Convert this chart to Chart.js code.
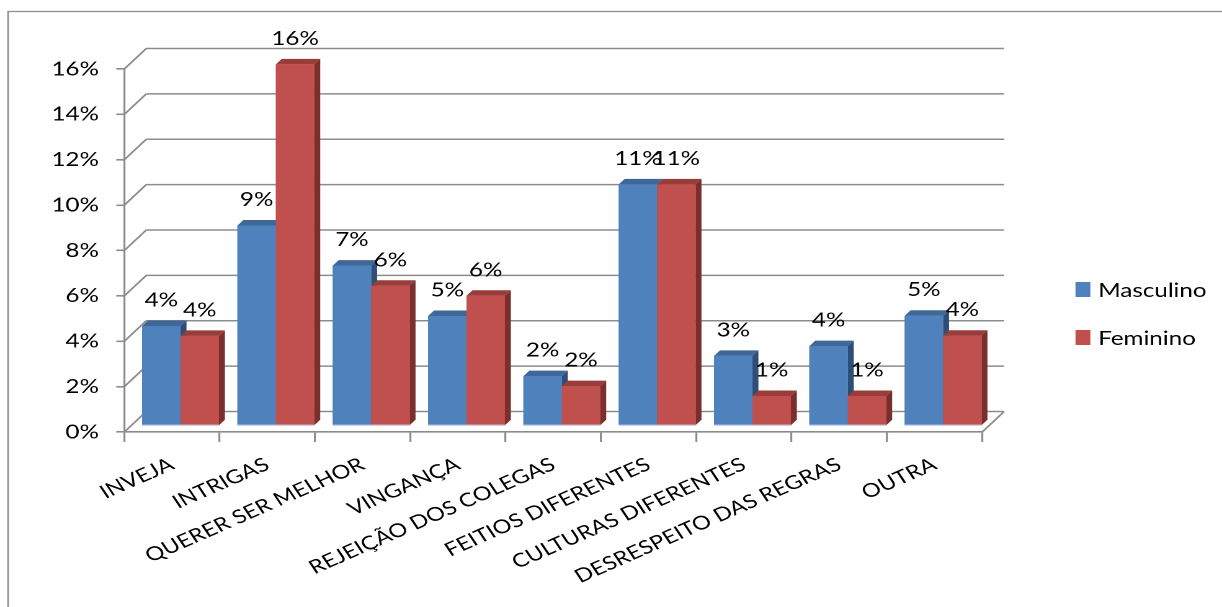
<!DOCTYPE html>
<html><head><meta charset="utf-8">
<script src="https://cdn.jsdelivr.net/npm/chart.js@4.4.1/dist/chart.umd.min.js"></script>
<style>
html,body{margin:0;padding:0;background:#fff;overflow:hidden;width:1222px;height:607px;}
#wrap{position:absolute;left:0;top:0;width:985px;height:607px;transform:scaleX(1.24061);transform-origin:0 0;}
canvas{display:block;}
</style></head><body>
<div id="wrap"><canvas id="c"></canvas></div>
<script>
// ---- data ----
const categories = ['INVEJA','INTRIGAS','QUERER SER MELHOR','VINGANÇA','REJEIÇÃO DOS COLEGAS','FEITIOS DIFERENTES','CULTURAS DIFERENTES','DESRESPEITO DAS REGRAS','OUTRA'];
const masculino = [4.41, 8.84, 7.07, 4.85, 2.20, 10.65, 3.09, 3.52, 4.86];
const feminino  = [3.97, 15.94, 6.18, 5.74, 1.76, 10.65, 1.32, 1.32, 3.98];
const seriesNames = ['Masculino','Feminino'];
const yTickValues = [0,2,4,6,8,10,12,14,16];

// ---- style ----
const GRAY = '#8c8c8c';
const FONT = {family:'Lato, Carlito, "Open Sans", sans-serif', size:19.5};
const XFONT = {family:'Lato, Carlito, "Open Sans", sans-serif', size:19};
const FONT_CSS = '19.5px Lato, Carlito, "Open Sans", sans-serif';
const DEPTH = {dx:17.7, dy:20.5};
const BAR_SHIFT = {dx:6.9, dy:-6};
const BAR_DEPTH = {dx:4.8, dy:5.5};
const FACES = [
  {front:'#4f81bd', top:'#3f6797', side:'#2f4e77'},
  {front:'#c0504d', top:'#983d3a', side:'#7b2f2d'}
];

function line(ctx,x1,y1,x2,y2){ctx.beginPath();ctx.moveTo(x1,y1);ctx.lineTo(x2,y2);ctx.stroke();}

const threeD = {
  id:'threeD',
  beforeDraw(chart){
    const ctx = chart.ctx;
    ctx.save();
    ctx.strokeStyle = GRAY; ctx.lineWidth = 1.3;
    ctx.beginPath(); ctx.moveTo(6.5, chart.height+5); ctx.lineTo(6.5, 11.5); ctx.lineTo(chart.width+5, 11.5); ctx.stroke();
    ctx.restore();
  },
  beforeDatasetsDraw(chart){
    const ctx = chart.ctx;
    const {left,right,bottom} = chart.chartArea;
    const ys = chart.scales.y;
    ctx.save();
    ctx.strokeStyle = GRAY; ctx.lineWidth = 1.6;
    yTickValues.forEach(v=>{
      const py = ys.getPixelForValue(v);
      line(ctx,left,py,left+DEPTH.dx,py-DEPTH.dy);
      line(ctx,left+DEPTH.dx,py-DEPTH.dy,right+DEPTH.dx,py-DEPTH.dy);
    });
    line(ctx,right,bottom,right+DEPTH.dx,bottom-DEPTH.dy);
    ctx.restore();
    ctx.save();
    ctx.translate(BAR_SHIFT.dx, BAR_SHIFT.dy);
  },
  afterDatasetsDraw(chart){
    const ctx = chart.ctx;
    const metas = chart.data.datasets.map((d,i)=>chart.getDatasetMeta(i));
    const n = chart.data.labels.length;
    for(let j=0;j<n;j++){
      metas.forEach((meta,i)=>{
        const el = meta.data[j];
        const f = FACES[i];
        const x0 = el.x - el.width/2, x1 = el.x + el.width/2, yt = el.y, yb = el.base;
        const ddx = BAR_DEPTH.dx, ddy = BAR_DEPTH.dy;
        ctx.fillStyle = f.top;
        ctx.beginPath(); ctx.moveTo(x0,yt); ctx.lineTo(x1,yt); ctx.lineTo(x1+ddx,yt-ddy); ctx.lineTo(x0+ddx,yt-ddy); ctx.closePath(); ctx.fill();
        ctx.fillStyle = f.side;
        ctx.beginPath(); ctx.moveTo(x1,yt); ctx.lineTo(x1+ddx,yt-ddy); ctx.lineTo(x1+ddx,yb-ddy); ctx.lineTo(x1,yb); ctx.closePath(); ctx.fill();
        ctx.fillStyle = f.front;
        ctx.fillRect(x0, yt, x1-x0, yb-yt);
        ctx.fillStyle = 'rgba(160,190,230,0.55)';
        ctx.fillRect(x0, yb-1.2, x1-x0, 1.2);
      });
    }
    ctx.fillStyle = '#000';
    ctx.font = FONT_CSS;
    ctx.textAlign = 'center';
    ctx.textBaseline = 'alphabetic';
    metas.forEach((meta,i)=>{
      const vals = chart.data.datasets[i].data;
      meta.data.forEach((el,j)=>{
        ctx.fillText(Math.round(vals[j])+'%', el.x, el.y - 19.5);
      });
    });
    ctx.restore();
  },
  afterDraw(chart){
    const ctx = chart.ctx;
    ctx.save();
    ctx.font = FONT_CSS;
    ctx.textAlign = 'left';
    ctx.textBaseline = 'alphabetic';
    const rows = [282, 330];
    seriesNames.forEach((name,i)=>{
      ctx.fillStyle = FACES[i].front;
      ctx.fillRect(866.9, rows[i], 12, 15);
      ctx.fillStyle = '#000';
      ctx.fillText(name, 885.2, rows[i]+15);
    });
    ctx.restore();
  }
};

function build(){
  new Chart(document.getElementById('c'), {
    type:'bar',
    data:{
      labels: categories,
      datasets:[
        {label:seriesNames[0], data:masculino, backgroundColor:FACES[0].front, borderWidth:0, clip:false},
        {label:seriesNames[1], data:feminino, backgroundColor:FACES[1].front, borderWidth:0, clip:false}
      ]
    },
    options:{
      responsive:true, maintainAspectRatio:false, animation:false, devicePixelRatio:2,
      layout:{padding:{left:0, right:193.3, top:69, bottom:0}},
      datasets:{bar:{categoryPercentage:0.806, barPercentage:1.0}},
      plugins:{legend:{display:false}, tooltip:{enabled:false}},
      scales:{
        x:{
          offset:true,
          grid:{display:true, drawOnChartArea:false, drawTicks:true, tickLength:10, color:GRAY, lineWidth:1.6, offset:true},
          border:{display:true, color:GRAY, width:1.6},
          ticks:{autoSkip:false, minRotation:28.5, maxRotation:28.5, padding:11, font:XFONT, color:'#000'},
          afterFit(s){ s.height = 175; }
        },
        y:{
          min:0, max:16,
          afterBuildTicks(s){ s.ticks = yTickValues.map(v=>({value:v})); },
          grid:{display:true, drawOnChartArea:false, drawTicks:true, tickLength:6.5, color:GRAY, lineWidth:1.6},
          border:{display:true, color:GRAY, width:1.6},
          ticks:{padding:14, font:FONT, color:'#000', callback:v=>v+'%'},
          afterFit(s){ s.width = 100.2; }
        }
      }
    },
    plugins:[threeD]
  });
}
const fl = document.fonts && document.fonts.load ? document.fonts.load(FONT_CSS) : Promise.resolve();
Promise.race([fl, new Promise(r=>setTimeout(r,500))]).then(build, build);
</script>
</body></html>
